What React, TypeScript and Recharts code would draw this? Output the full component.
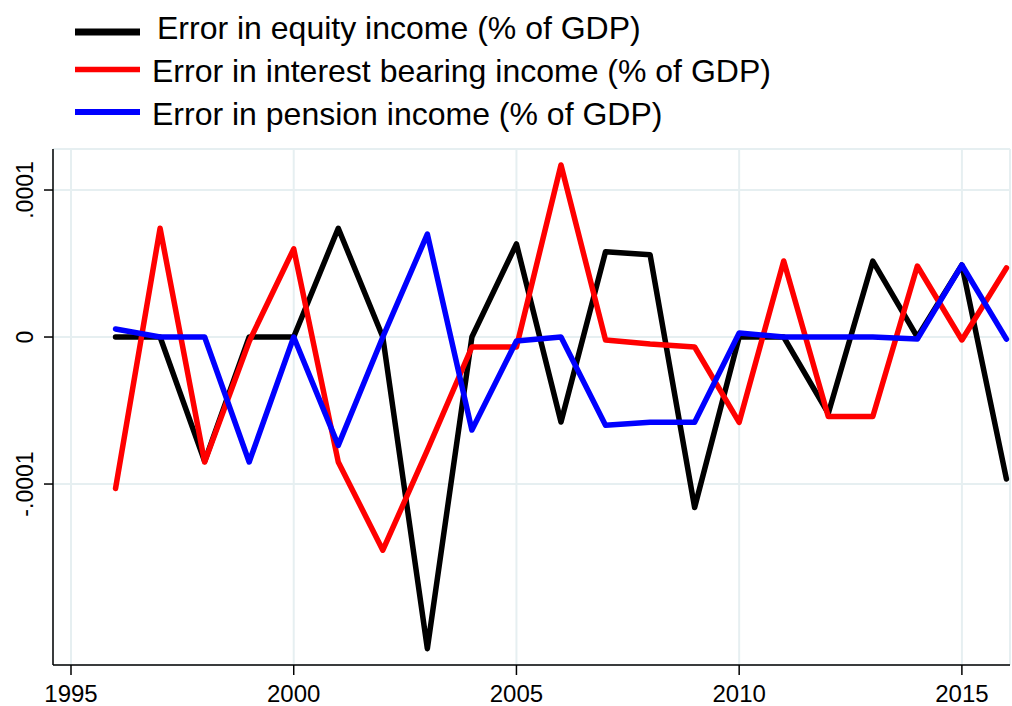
import { CartesianGrid, Line, LineChart, XAxis, YAxis } from "recharts";

// Years covered by the three error series
const years = [
  1996, 1997, 1998, 1999, 2000, 2001, 2002, 2003, 2004, 2005, 2006, 2007, 2008,
  2009, 2010, 2011, 2012, 2013, 2014, 2015, 2016,
];

// Errors, as a share of GDP
const equityErr = [
  0, 0, -0.0000846, 0, 0, 0.000074, 0, -0.000212, 0, 0.0000633, -0.0000578,
  0.000058, 0.000056, -0.000116, 0, 0, -0.000052, 0.0000517, 0, 0.000049,
  -0.0000966,
];
const interestErr = [
  -0.000103, 0.000074, -0.000085, -0.000003, 0.00006, -0.000085, -0.000145,
  -0.000077, -0.0000068, -0.0000068, 0.000117, -0.000002, -0.0000048,
  -0.0000068, -0.000058, 0.0000517, -0.000054, -0.000054, 0.0000483,
  -0.000002, 0.000047,
];
const pensionErr = [
  0.0000055, 0, 0, -0.000085, 0, -0.0000737, 0, 0.00007, -0.0000633,
  -0.0000027, 0, -0.00006, -0.000058, -0.000058, 0.0000027, 0, 0, 0,
  -0.0000014, 0.000049, -0.0000014,
];

const xTicks = [1995, 2000, 2005, 2010, 2015];
const yTicks = [-0.0001, 0, 0.0001];
const yTickLabels = ["-.0001", "0", ".0001"];

const series = [
  { key: "equity", label: "Error in equity income (% of GDP)", color: "#000000" },
  { key: "interest", label: "Error in interest bearing income (% of GDP)", color: "#ff0000" },
  { key: "pension", label: "Error in pension income (% of GDP)", color: "#0000ff" },
];

const data = years.map((y, i) => ({
  year: y,
  equity: equityErr[i],
  interest: interestErr[i],
  pension: pensionErr[i],
}));

const FONT = "'Liberation Sans', Arial, Helvetica, sans-serif";
const GRID = "#e6eff1";

// legend rows: swatch centre, text baseline, text left, swatch thickness
const legendRows = [
  { swatchY: 32, textY: 38.5, textX: 157, thick: 7 },
  { swatchY: 69.5, textY: 81.5, textX: 152, thick: 5.5 },
  { swatchY: 112, textY: 124.5, textX: 152, thick: 6 },
];

function YTick({ y, payload }: any) {
  const idx = yTicks.indexOf(payload.value);
  const label = idx >= 0 ? yTickLabels[idx] : String(payload.value);
  const cx = 25;
  return (
    <text
      x={cx}
      y={y}
      transform={`rotate(-90, ${cx}, ${y})`}
      textAnchor="middle"
      dominantBaseline="central"
      fontSize={23}
      fontFamily={FONT}
      fill="#000"
    >
      {label}
    </text>
  );
}

function XTick({ x, payload }: any) {
  return (
    <text
      x={x}
      y={702}
      textAnchor="middle"
      fontSize={24}
      fontFamily={FONT}
      fill="#000"
    >
      {payload.value}
    </text>
  );
}

export default function App() {
  return (
    <div
      style={{
        position: "absolute",
        left: 0,
        top: 0,
        width: 1012,
        height: 706,
        background: "#fff",
      }}
    >
      <LineChart
        width={1012}
        height={706}
        data={data}
        margin={{ top: 149, right: 2, bottom: 0, left: 0 }}
      >
        <CartesianGrid stroke={GRID} strokeWidth={2} />
        <XAxis
          dataKey="year"
          type="number"
          domain={[1994.596, 2016.08]}
          ticks={xTicks}
          height={41}
          tick={<XTick />}
          tickSize={10}
          axisLine={{ stroke: "#000", strokeWidth: 1.5 }}
          tickLine={{ stroke: "#000", strokeWidth: 1.5 }}
          allowDataOverflow
        />
        <YAxis
          type="number"
          domain={[-0.0002231, 0.0001279]}
          ticks={yTicks}
          width={53}
          tickSize={9}
          axisLine={{ stroke: "#000", strokeWidth: 1.5 }}
          tickLine={{ stroke: "#000", strokeWidth: 1.5 }}
          tick={<YTick />}
          allowDataOverflow
        />
        {series.map((s) => (
          <Line
            key={s.key}
            type="linear"
            dataKey={s.key}
            name={s.label}
            stroke={s.color}
            strokeWidth={5.5}
            strokeLinejoin="round"
            strokeLinecap="round"
            dot={false}
            activeDot={false}
            isAnimationActive={false}
          />
        ))}
      </LineChart>

      {/* Legend above the plot */}
      <svg
        width={1012}
        height={140}
        style={{ position: "absolute", left: 0, top: 0 }}
      >
        {series.map((s, i) => {
          const r = legendRows[i];
          return (
            <g key={s.key}>
              <line
                x1={75}
                x2={140}
                y1={r.swatchY}
                y2={r.swatchY}
                stroke={s.color}
                strokeWidth={r.thick}
              />
              <text
                x={r.textX}
                y={r.textY}
                fontSize={32}
                fontFamily={FONT}
                fill="#000"
              >
                {s.label}
              </text>
            </g>
          );
        })}
      </svg>
    </div>
  );
}
